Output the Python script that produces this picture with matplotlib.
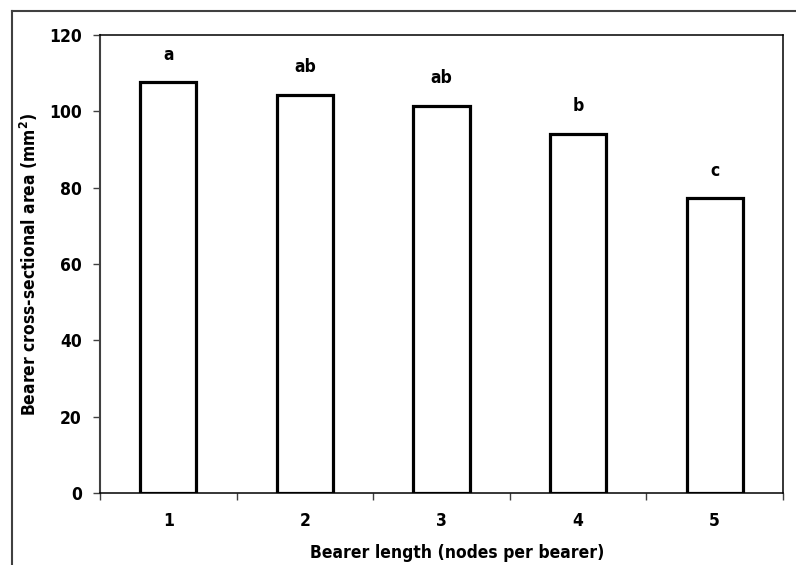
import matplotlib
matplotlib.use("Agg")
import matplotlib.pyplot as plt
from matplotlib.lines import Line2D
from matplotlib.ticker import FixedLocator
from matplotlib import font_manager as fm

categories = ["1", "2", "3", "4", "5"]
values = [107.6, 104.3, 101.4, 94.1, 77.2]
letters = ["a", "ab", "ab", "b", "c"]
yticks = [0, 20, 40, 60, 80, 100, 120]

names = {f.name for f in fm.fontManager.ttflist}
fam = ['DejaVu Sans']
stretch = 'normal'
if 'Liberation Sans Narrow' in names:
    fam = ['Liberation Sans Narrow', 'DejaVu Sans']
elif 'DejaVu Sans Condensed' in names:
    fam = ['DejaVu Sans Condensed', 'DejaVu Sans']
else:
    fam = ['DejaVu Sans']
    stretch = 'condensed'
plt.rcParams['font.family'] = fam
plt.rcParams['font.stretch'] = stretch
plt.rcParams['font.weight'] = 'bold'
FS = 12.5

W, H = 796, 565
fig = plt.figure(figsize=(W / 100, H / 100), dpi=100)
ax = fig.add_axes([100 / W, (H - 493) / H, (783 - 100) / W, (493 - 35) / H])

x = list(range(1, len(categories) + 1))
ax.bar(x, values, width=0.41, facecolor='white', edgecolor='black', linewidth=2.3, zorder=3)

for xi, v, lab in zip(x, values, letters):
    ax.annotate(lab, (xi, v), xytext=(0, 20), textcoords='offset points',
                ha='center', va='center', fontsize=FS, fontweight='bold')

ax.set_xlim(0.5, len(categories) + 0.5)
ax.set_ylim(0, 120)
ax.set_yticks(yticks)
ax.set_yticklabels([str(t) for t in yticks], fontsize=FS, fontweight='bold')
ax.set_xticks(x)
ax.set_xticklabels(categories, fontsize=FS, fontweight='bold')
ax.xaxis.set_minor_locator(FixedLocator([i + 0.5 for i in range(0, len(categories) + 1)]))
ax.tick_params(axis='x', which='major', length=0, pad=14)
ax.tick_params(axis='x', which='minor', length=5, width=1, direction='out', color='#404040')
ax.tick_params(axis='y', length=5, width=1, direction='out', color='#404040', pad=8)

for s in ['top', 'right', 'bottom']:
    ax.spines[s].set_color('black')
    ax.spines[s].set_linewidth(1.1)
ax.spines['left'].set_color('#404040')
ax.spines['left'].set_linewidth(1.5)

ax.set_xlabel("Bearer length (nodes per bearer)", fontsize=FS, fontweight='bold')
ax.set_ylabel("Bearer cross-sectional area (mm$^\\mathbf{2}$)", fontsize=FS, fontweight='bold')
ax.yaxis.set_label_coords(-(100 - 40) / (783 - 100), 0.5)
ax.xaxis.set_label_coords((457 - 100) / (783 - 100), -(544 - 493) / (493 - 35))

# outer frame (left and top edges visible)
fig.add_artist(Line2D([12 / W, 12 / W], [0, (H - 11) / H], transform=fig.transFigure,
                      color='#404040', linewidth=1.5))
fig.add_artist(Line2D([12 / W, 1], [(H - 11) / H, (H - 11) / H], transform=fig.transFigure,
                      color='#404040', linewidth=1.5))

fig.savefig("out.png", dpi=100)
